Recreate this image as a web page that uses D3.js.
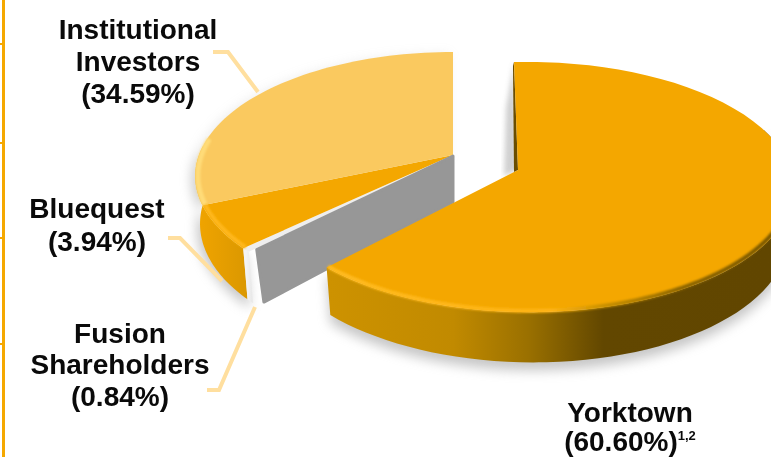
<!DOCTYPE html>
<html>
<head>
<meta charset="utf-8">
<script src="https://cdnjs.cloudflare.com/ajax/libs/d3/7.8.5/d3.min.js"></script>
<style>
  html, body { margin: 0; padding: 0; background: #fff; overflow: hidden; }
  text { font-family: "Liberation Sans", Arial, sans-serif; font-weight: bold; fill: #0a0a0a; }
</style>
</head>
<body>
<div id="app"></div>
<script>
const categories = ["Yorktown", "Fusion Shareholders", "Bluequest", "Institutional Investors"];
const values = [60.6, 0.84, 3.94, 34.59];
const topColors = ["#f4a700", "#eeeeee", "#f4a700", "#fac95f"];

const w = 771;
const h = 457;

const svg = d3.select("#app").append("svg").attr("width", w).attr("height", h).style("display", "block");
const defs = svg.append("defs");

// gradients for the side walls
const addGrad = (id, x1, x2, stops) => {
  const g = defs.append("linearGradient").attr("id", id)
    .attr("gradientUnits", "userSpaceOnUse")
    .attr("x1", x1).attr("x2", x2).attr("y1", 0).attr("y2", 0);
  stops.forEach((s) => g.append("stop").attr("offset", s[0]).attr("stop-color", s[1]));
};
addGrad("sideYork", 330, 771, [[0, "#cd9200"], [0.28, "#c18a00"], [0.45, "#9a7000"], [0.62, "#624700"], [1, "#614600"]]);
addGrad("bevelYork", 330, 771, [[0, "#ffbb22"], [0.5, "#ffb414"], [0.62, "#c99000"], [0.8, "#8a6400"], [1, "#7a5800"]]);
addGrad("sideLeft", 198, 258, [[0, "#f0a400"], [1, "#d69500"]]);
addGrad("sideFusion", 246, 262, [[0, "#f4f4f4"], [1, "#d6d6d6"]]);

const blur = (id, s) =>
  defs.append("filter").attr("id", id).attr("x", "-20%").attr("y", "-20%").attr("width", "140%").attr("height", "140%")
    .append("feGaussianBlur").attr("stdDeviation", s);
blur("soft", 6);
blur("edge", 1.3);
blur("tiny", 2.5);

const deg = Math.PI / 180;

// each piece of the exploded pie: where its point sits and how the tilted disc is drawn.
// the original 3D picture spreads its slices unevenly, the angle scales follow that
const yorkView = {
  apex: [518, 170], rx: 262, ry: 122.7, k: 0.136, m: 0.04, depth: 46,
  angle: d3.scaleLinear().domain([0, 218.2]).range([-1, 222.6])
};
const leftView = {
  apex: [453, 155], rx: 254, ry: 120.5, k: 0.17, m: 0, depth: 47,
  angle: d3.scaleLinear().domain([218.2, 221.2, 235.4, 360]).range([225, 226.8, 247, 360])
};

const project = (view, a, r = 1) => {
  const t = view.angle(a / deg) * deg;
  const x = Math.sin(t) * r;
  const y = -Math.cos(t) * r;
  const d = 1 - view.k * y - view.m * x;
  return [view.apex[0] + (view.rx * x) / d, view.apex[1] + (view.ry * y) / d, d];
};
const lower = (view, p) => [p[0], p[1] + view.depth / p[2]];

const arcs = d3.pie().sort(null).startAngle(0).endAngle(2 * Math.PI)(values);
const york = arcs[0];
const fusion = arcs[1];
const blue = arcs[2];
const inst = arcs[3];

const line = d3.line();
const rim = (view, a0, a1, r = 1) =>
  d3.range(0, 61).map((i) => project(view, a0 + ((a1 - a0) * i) / 60, r));
const topPath = (view, d) => line([view.apex, ...rim(view, d.startAngle, d.endAngle)]) + "Z";
const wallPath = (view, a0, a1) => {
  const pts = rim(view, a0, a1);
  const low = rim(view, a0, a1, 0.982).map((p) => lower(view, p)).reverse();
  return line([...pts, ...low]) + "Z";
};

// left rule with its table ticks
svg.append("rect").attr("x", 2).attr("y", 0).attr("width", 3).attr("height", h).attr("fill", "#f5a800");
svg.selectAll(".tick").data([44, 143, 238, 344]).enter().append("rect").attr("class", "tick")
  .attr("x", 0).attr("y", (d) => d - 1).attr("width", 3).attr("height", 2).attr("fill", "#f5a800");

// soft shadows under the two pieces
const yorkWallStart = 70 * deg;
const leftWallEnd = inst.startAngle + 30 * deg;
const shadow = svg.append("g").attr("filter", "url(#soft)").attr("fill", "#8e8e8e").attr("opacity", 0.5);
shadow.append("path").attr("d", wallPath(yorkView, yorkWallStart, york.endAngle)).attr("transform", "translate(0,8)");
shadow.append("path").attr("d", wallPath(leftView, fusion.startAngle, leftWallEnd)).attr("transform", "translate(-3,5)");
shadow.append("path").attr("d", topPath(leftView, inst)).attr("transform", "translate(-4,2)").attr("opacity", 0.35);

// shade in the gap between the pieces
const notch = project(yorkView, 0);
svg.append("path")
  .attr("d", line([notch, yorkView.apex, [yorkView.apex[0] - 14, yorkView.apex[1] + 6], [notch[0] - 8, notch[1] + 46]]) + "Z")
  .attr("fill", "#999").attr("opacity", 0.45).attr("filter", "url(#tiny)");

// left piece
const left = svg.append("g");
left.append("path").attr("d", wallPath(leftView, blue.startAngle, leftWallEnd)).attr("fill", "url(#sideLeft)");
left.append("path").attr("d", wallPath(leftView, fusion.startAngle, fusion.endAngle)).attr("fill", "url(#sideFusion)");
left.selectAll(".slice").data([fusion, blue, inst]).enter().append("path").attr("class", "slice")
  .attr("d", (d) => topPath(leftView, d))
  .attr("fill", (d) => topColors[d.index]);
left.append("path")
  .attr("d", line(rim(leftView, inst.startAngle, leftWallEnd + 4 * deg, 0.99)))
  .attr("fill", "none").attr("stroke", "#ffdc78").attr("stroke-width", 5).attr("filter", "url(#edge)");
left.append("path")
  .attr("d", line(rim(leftView, blue.startAngle, blue.endAngle, 0.99)))
  .attr("fill", "none").attr("stroke", "#ffb81e").attr("stroke-width", 4).attr("filter", "url(#edge)");

// grey cut face of the left piece, rounded at the outer corner
const corner = project(leftView, fusion.startAngle, 0.97);
const cornerLow = lower(leftView, project(leftView, fusion.startAngle, 0.93));
const leftPoint = [leftView.apex[0], leftView.apex[1], 1];
left.append("path")
  .attr("d", line([[leftView.apex[0], leftView.apex[1] + 1], [corner[0] + 1, corner[1] + 1], [cornerLow[0] - 1, cornerLow[1] + 5], lower(leftView, leftPoint)]) + "Z")
  .attr("fill", "#979797").attr("stroke", "#979797").attr("stroke-width", 3).attr("stroke-linejoin", "round");

// Yorktown
const yorkG = svg.append("g");
yorkG.append("path")
  .attr("d", line([notch, yorkView.apex, [yorkView.apex[0] - 4, yorkView.apex[1] + 2], [notch[0] - 1, notch[1] + 4]]) + "Z")
  .attr("fill", "#6a4d00");
yorkG.append("path").attr("d", wallPath(yorkView, yorkWallStart, york.endAngle)).attr("fill", "url(#sideYork)");
yorkG.append("path").attr("d", topPath(yorkView, york)).attr("fill", topColors[york.index]);
yorkG.append("path")
  .attr("d", line(rim(yorkView, 105 * deg, york.endAngle, 0.992)))
  .attr("fill", "none").attr("stroke", "url(#bevelYork)").attr("stroke-width", 4).attr("filter", "url(#edge)");

// leader lines
const leaders = [
  [[213, 52], [228, 52], [258, 92]],
  [[168, 238], [180, 238], [222, 281]],
  [[207, 390], [219, 390], [255, 307]]
];
svg.selectAll(".leader").data(leaders).enter().append("path").attr("class", "leader")
  .attr("d", (d) => line(d))
  .attr("fill", "none").attr("stroke", "#ffdf9f").attr("stroke-width", 4);

// labels
const pct = (i) => "(" + values[i].toFixed(2) + "%)";
const labels = [
  { x: 138, y: [39, 71, 103], lines: ["Institutional", "Investors", pct(3)] },
  { x: 97, y: [218, 251], lines: [categories[2], pct(2)] },
  { x: 120, y: [343, 374, 406], lines: ["Fusion", "Shareholders", pct(1)] },
  { x: 630, y: [422, 451], lines: [categories[0], pct(0)], note: "1,2" }
];
labels.forEach((l) => {
  l.lines.forEach((t, i) => {
    const txt = svg.append("text").attr("x", l.x).attr("y", l.y[i])
      .attr("text-anchor", "middle").attr("font-size", 28).text(t);
    if (l.note && i === l.lines.length - 1) {
      txt.append("tspan").attr("font-size", 13).attr("dy", -11).text(l.note);
    }
  });
});
</script>
</body>
</html>
